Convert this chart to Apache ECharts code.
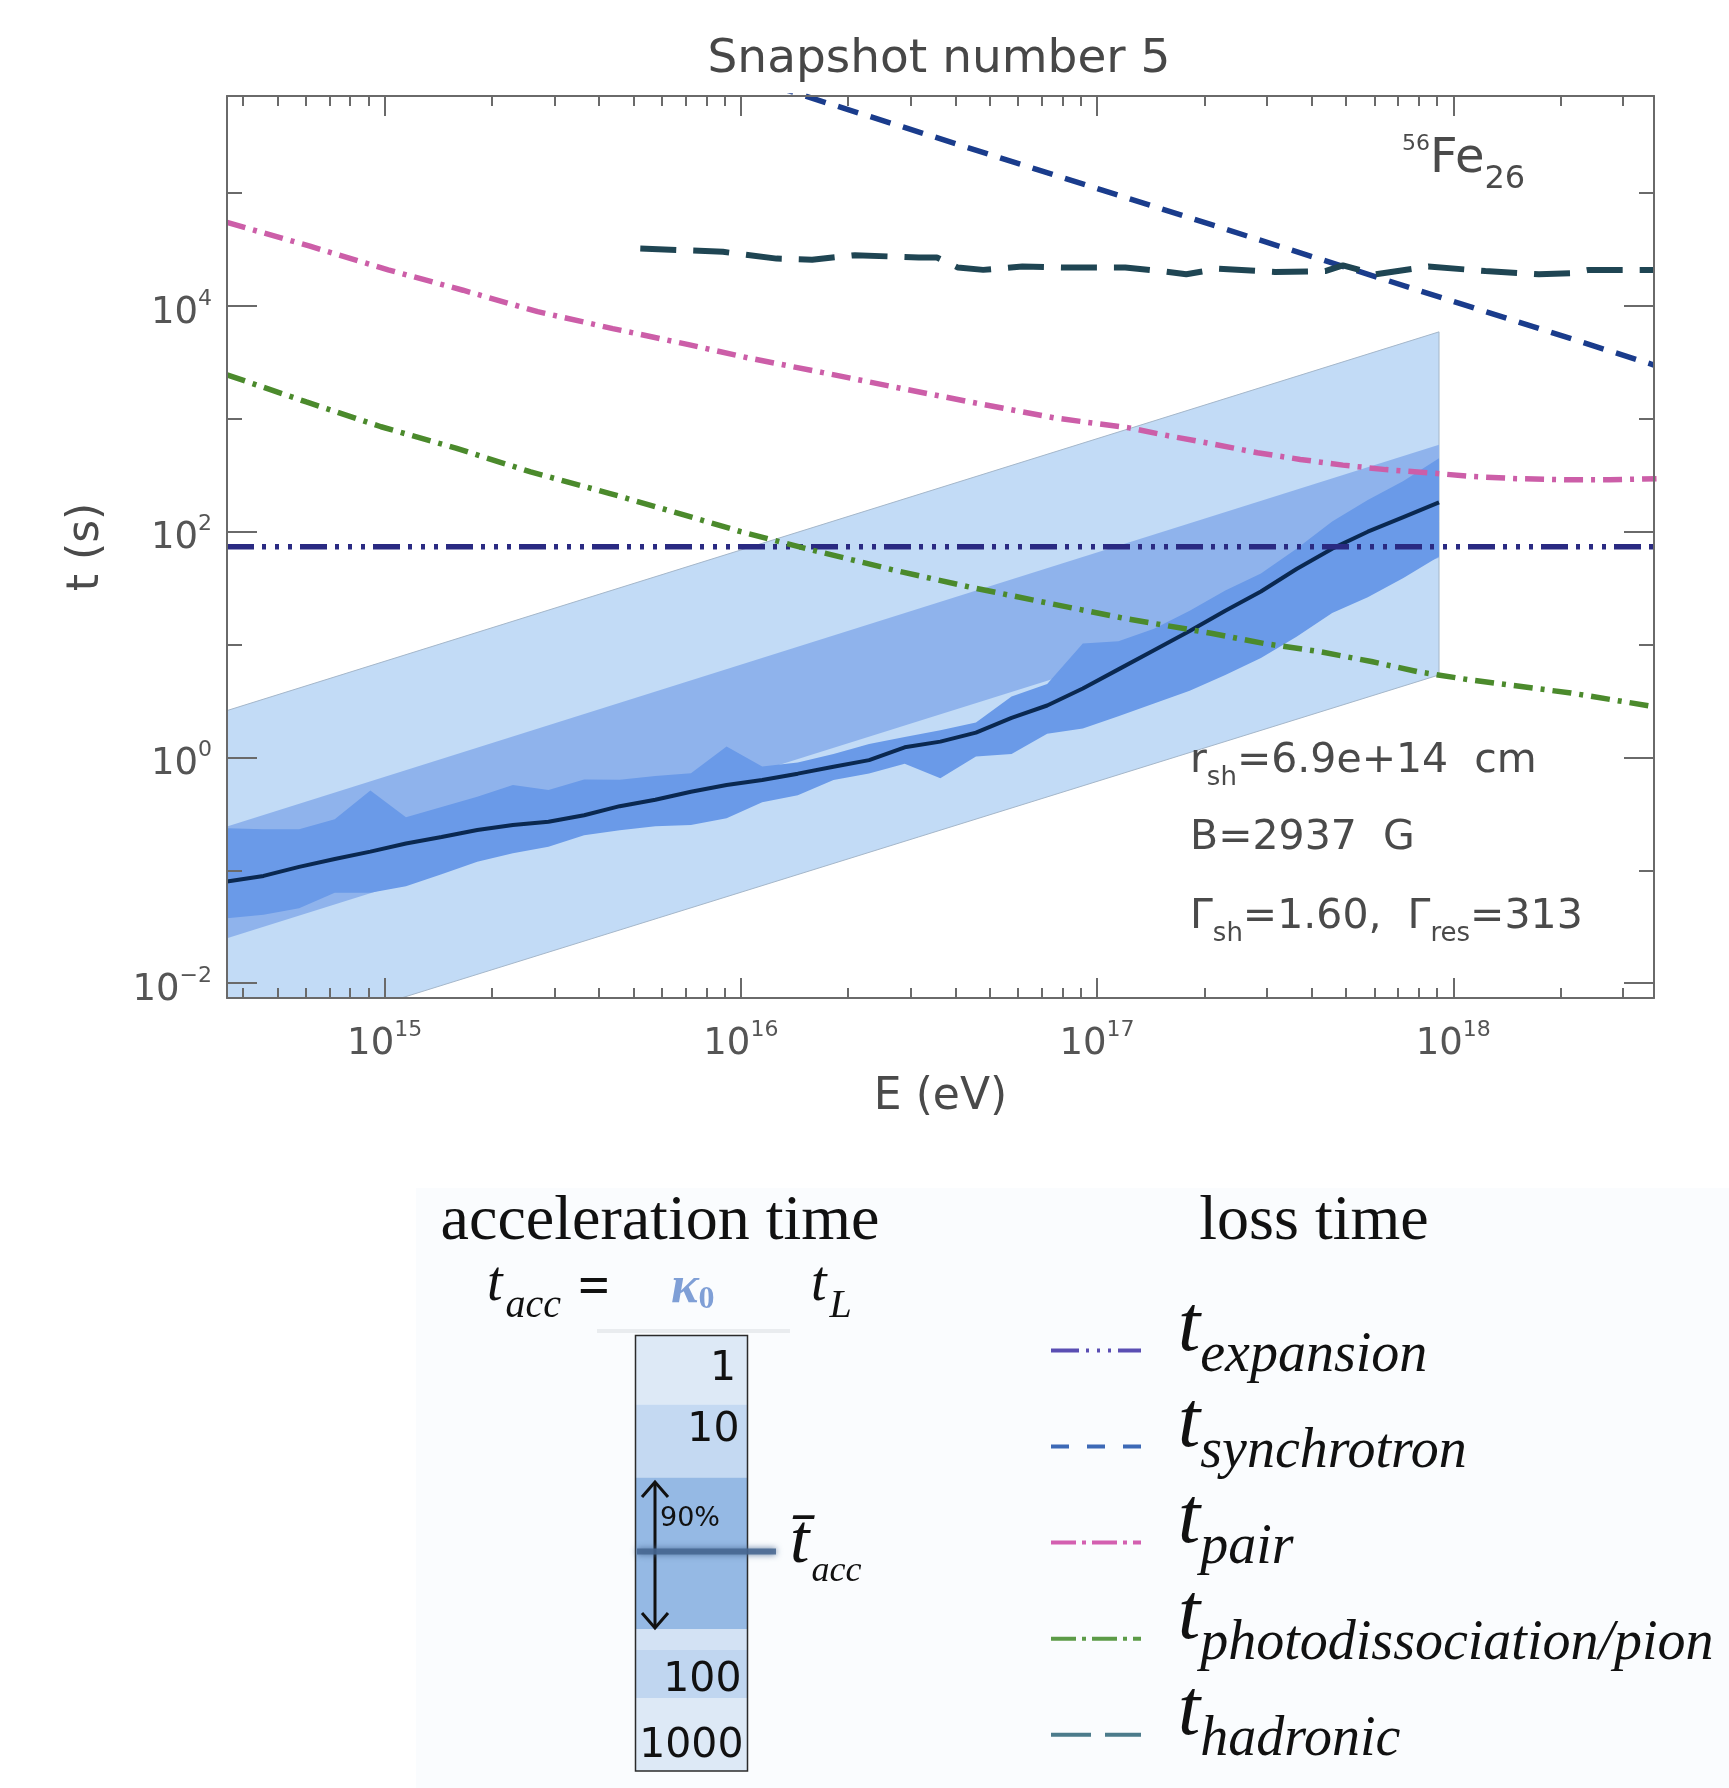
<!DOCTYPE html>
<html>
<head>
<meta charset="utf-8">
<script src="https://cdn.jsdelivr.net/npm/echarts@6.0.0/dist/echarts.min.js"></script>
<style>
html,body{margin:0;padding:0;background:#ffffff;}
#chart{width:1729px;height:1788px;}
</style>
</head>
<body>
<div id="chart"></div>
<script>
// ---------------- axes ----------------
const xMin = 3.61e14, xMax = 3.66e18;
const yMin = 7.38e-3, yMax = 7.26e5;
const xMajorTicks = [1e15, 1e16, 1e17, 1e18];
const xMinorTicks = [4e14, 5e14, 6e14, 7e14, 8e14, 9e14,
  2e15, 3e15, 4e15, 5e15, 6e15, 7e15, 8e15, 9e15,
  2e16, 3e16, 4e16, 5e16, 6e16, 7e16, 8e16, 9e16,
  2e17, 3e17, 4e17, 5e17, 6e17, 7e17, 8e17, 9e17,
  2e18, 3e18];
const yMajorTicks = [1e-2, 1e0, 1e2, 1e4];
const yMinorTicks = [1e-1, 1e1, 1e3, 1e5];

// ---------------- acceleration time ----------------
const accE = [3.61e14, 4.571e14, 5.754e14, 7.244e14, 9.120e14, 1.148e15, 1.445e15, 1.820e15, 2.291e15, 2.884e15,
  3.631e15, 4.571e15, 5.754e15, 7.244e15, 9.120e15, 1.148e16, 1.445e16, 1.820e16, 2.291e16, 2.884e16,
  3.631e16, 4.571e16, 5.754e16, 7.244e16, 9.120e16, 1.148e17, 1.445e17, 1.820e17, 2.291e17, 2.884e17,
  3.631e17, 4.571e17, 5.754e17, 7.244e17, 9.120e17];
const accMedian = [0.0794, 0.0891, 0.1072, 0.1259, 0.1462, 0.1726, 0.1968, 0.2275, 0.2523, 0.2692,
  0.3076, 0.3698, 0.4217, 0.4955, 0.5702, 0.6310, 0.7178, 0.8279, 0.9462, 1.230,
  1.380, 1.660, 2.239, 2.884, 4.074, 6.026, 8.913, 13.18, 19.95, 29.51,
  46.77, 70.79, 100.0, 134.9, 182.0];
const acc90Upper = [0.2355, 0.2307, 0.2307, 0.2831, 0.5082, 0.2951, 0.3631, 0.4487, 0.5702, 0.5152,
  0.6383, 0.6324, 0.6839, 0.7244, 1.247, 0.8318, 0.9016, 1.072, 1.318, 1.514,
  1.738, 2.042, 3.467, 4.467, 10.23, 10.72, 13.80, 19.95, 30.20, 42.66,
  70.79, 123.0, 190.5, 281.8, 446.7];
const acc90Lower = [0.0375, 0.04036, 0.04603, 0.06324, 0.06324, 0.07228, 0.09226, 0.1191, 0.1416, 0.1614,
  0.2042, 0.2265, 0.2455, 0.2523, 0.2884, 0.4009, 0.4613, 0.6310, 0.7211, 0.8770,
  0.6546, 1.019, 1.072, 1.622, 1.807, 2.317, 2.999, 3.890, 5.370, 7.586,
  11.75, 19.05, 26.30, 38.90, 60.26];
const kappaE = [3.61e14, 9.12e17];
const kappa1000 = [2.60, 5900];
const kappa100 = [0.244, 589];
const kappa10 = [0.0250, 58.7];
const kappa1 = [0.00244, 5.38];

// ---------------- loss times ----------------
const expansionE = [3.61e14, 3.66e18];
const expansionT = [73.5, 73.5];
const synchrotronE = [1e16, 1e17, 1e18, 3.66e18];
const synchrotronT = [1.1e6, 1.1e5, 1.1e4, 3.0e3];
const pairE = [3.61e14, 6.17e14, 1.023e15, 1.66e15, 2.69e15, 4.37e15, 7.08e15, 1.047e16, 1.70e16, 2.82e16,
  4.57e16, 7.59e16, 1.23e17, 1.585e17, 2.09e17, 2.82e17, 3.72e17, 4.90e17, 6.46e17, 8.71e17,
  1.12e18, 1.51e18, 2.14e18, 2.75e18, 3.72e18];
const pairT = [5.50e4, 3.39e4, 2.09e4, 1.38e4, 8.91e3, 6.31e3, 4.57e3, 3.47e3, 2.57e3, 1.86e3,
  1.38e3, 1.02e3, 832, 708, 603, 501, 437, 389, 355, 331,
  309, 295, 288, 288, 295];
const photoE = [3.61e14, 6.03e14, 9.77e14, 1.585e15, 2.57e15, 4.27e15, 6.92e15, 1e16, 1.62e16, 2.69e16,
  4.37e16, 7.24e16, 1.20e17, 2.09e17, 2.95e17, 4.17e17, 5.89e17, 7.94e17, 1.096e18, 2.14e18, 3.66e18];
const photoT = [2455, 1413, 851, 550, 339, 219, 141, 100, 67.6, 45.7,
  32.4, 23.4, 17.0, 12.6, 10.2, 8.71, 7.08, 5.75, 4.90, 3.72, 2.82];
const hadronicE = [5.22e15, 8.91e15, 1.26e16, 1.585e16, 2.09e16, 3.16e16, 3.55e16, 4.07e16, 4.79e16, 6.17e16,
  8.32e16, 1.2e17, 1.51e17, 1.78e17, 2.19e17, 3.16e17, 4.37e17, 4.9e17, 6.03e17, 8.51e17,
  1.23e18, 1.74e18, 2.14e18, 2.4e18, 3.66e18];
const hadronicT = [3.24e4, 3.02e4, 2.63e4, 2.57e4, 2.82e4, 2.69e4, 2.69e4, 2.19e4, 2.09e4, 2.24e4,
  2.19e4, 2.19e4, 2.04e4, 1.91e4, 2.14e4, 2.0e4, 2.04e4, 2.29e4, 1.91e4, 2.24e4,
  2.04e4, 1.91e4, 1.95e4, 2.09e4, 2.09e4];

// ---------------- legend / colour bar texts ----------------
const lossNames = ['expansion', 'synchrotron', 'pair', 'photodissociation/pion', 'hadronic'];
const kappaLabels = ['1', '10', '100', '1000'];

// ---------------- helpers ----------------
const zip = (xs, ys) => xs.map((x, i) => [x, ys[i]]);
const frameColor = '#6a6a6a';
const plotFont = 'DejaVu Sans';
const serif = 'Liberation Serif';

function band(name, xs, upper, lower, color, z, stroke) {
  const pts = [];
  xs.forEach((x, i) => pts.push([x, upper[i]]));
  for (let i = xs.length - 1; i >= 0; i--) pts.push([xs[i], lower[i]]);
  return {
    type: 'custom', name, coordinateSystem: 'cartesian2d', xAxisIndex: 0, yAxisIndex: 0,
    clip: true, silent: true, z, data: pts, encode: { x: 0, y: 1 },
    renderItem(params, api) {
      if (params.dataIndex !== 0) return null;
      const poly = pts.map(p => api.coord(p));
      return { type: 'polygon', shape: { points: poly },
        style: { fill: color, stroke: stroke || null, lineWidth: stroke ? 1 : 0 } };
    }
  };
}
function lossLine(name, xs, ys, color, dash, width) {
  return { type: 'line', name, data: zip(xs, ys), symbol: 'none', z: 6, clip: true,
    lineStyle: { color, width: width || 5.5, type: dash }, emphasis: { disabled: true } };
}
const powLabel = v => {
  const n = Math.round(Math.log10(v));
  return '{b|10}{s|' + (n < 0 ? '\u2212' + (-n) : n) + '}';
};
const labelRich = {
  b: { fontFamily: plotFont, fontSize: 37, lineHeight: 37, color: '#555', padding: [14, 0, 0, 0], verticalAlign: 'middle' },
  s: { fontFamily: plotFont, fontSize: 22, lineHeight: 22, color: '#555', padding: [0, 0, 14, 0], verticalAlign: 'middle' }
};
function axis(dim, pos, ticks, len, withLine, withLabels, extra) {
  const a = {
    type: 'log', position: pos, min: dim === 'x' ? xMin : yMin, max: dim === 'x' ? xMax : yMax, z: 10,
    axisLine: { show: withLine, onZero: false, lineStyle: { color: frameColor, width: 2 } },
    axisTick: { show: true, inside: true, length: len, customValues: ticks, lineStyle: { color: frameColor, width: 2 } },
    axisLabel: withLabels ? { show: true, customValues: ticks, formatter: powLabel, rich: labelRich,
      margin: dim === 'x' ? 21 : 15, color: '#555' } : { show: false },
    splitLine: { show: false }, minorTick: { show: false }, minorSplitLine: { show: false }
  };
  return Object.assign(a, extra || {});
}
// rich text whose parts are shifted vertically by dy (px) from the common middle line
function richText(x, y, parts, common, align) {
  const rich = {}; let s = '';
  parts.forEach((p, i) => {
    const k = 'r' + i; const dy = p.dy || 0;
    rich[k] = Object.assign({}, common, { fontSize: p.fs, lineHeight: p.fs, verticalAlign: 'middle',
      padding: [dy > 0 ? 2 * dy : 0, p.pr || 0, dy < 0 ? -2 * dy : 0, p.pl || 0] }, p.style || {});
    s += '{' + k + '|' + p.t + '}';
  });
  return { type: 'text', x, y, z: 50, style: { text: s, rich, align: align || 'left', verticalAlign: 'middle' } };
}
function plainText(x, y, t, fs, common, align) {
  return { type: 'text', x, y, z: 50, style: Object.assign({ text: t, fontSize: fs, align: align || 'left', verticalAlign: 'middle' }, common) };
}

const plotTxt = { fill: '#4a4a4a', fontFamily: plotFont };
const serifTxt = { fill: '#111', fontFamily: serif, fontStyle: 'italic' };

// colour bar geometry (layout only)
const barX = 635.5, barW = 112;
const barBands = [[1335.5, 1404.5, '#dde9f6'], [1404.5, 1477.5, '#c4d9f2'], [1477.5, 1629, '#95b9e4'],
  [1629, 1650, '#d3e2f4'], [1650, 1698, '#c0d6f0'], [1698, 1771, '#dde9f6']];
const kappaLabelPos = [[736, 1369], [739.5, 1430], [741.5, 1680], [743.5, 1746]];

const graphics = [];
graphics.push({ type: 'rect', z: 1, shape: { x: 416, y: 1188, width: 1313, height: 600 }, style: { fill: '#fafcfe' } });
// plot annotations
graphics.push(richText(1402, 160, [{ t: '56', fs: 22, dy: -16 }, { t: 'Fe', fs: 48 }, { t: '26', fs: 32, dy: 19.5 }], plotTxt));
graphics.push(richText(1190, 761, [{ t: 'r', fs: 41 }, { t: 'sh', fs: 26, dy: 17 }, { t: '=6.9e+14  cm', fs: 41 }], plotTxt));
graphics.push(richText(1190, 838.5, [{ t: 'B=2937  G', fs: 41 }], plotTxt));
graphics.push(richText(1190, 917, [{ t: '\u0393', fs: 41 }, { t: 'sh', fs: 26, dy: 17 }, { t: '=1.60,  \u0393', fs: 41 },
  { t: 'res', fs: 26, dy: 17 }, { t: '=313', fs: 41 }], plotTxt));
// headers
graphics.push(plainText(660, 1222, 'acceleration time', 64, { fill: '#111', fontFamily: serif }, 'center'));
graphics.push(plainText(1314, 1222, 'loss time', 64, { fill: '#111', fontFamily: serif }, 'center'));
// formula t_acc = kappa0 t_L
graphics.push({ type: 'rect', z: 2, shape: { x: 597, y: 1329, width: 193, height: 4 }, style: { fill: '#e9ecef' } });
graphics.push(richText(487, 1296, [{ t: 't', fs: 56, dy: -10.4 }, { t: 'acc', fs: 40, dy: 10.4, pl: 3 }], serifTxt));
graphics.push(plainText(594, 1290, '=', 56, { fill: '#111', fontFamily: serif, fontWeight: 'bold' }, 'center'));
graphics.push(richText(671, 1294.5, [{ t: '\u03ba', fs: 52, dy: -5.5 }, { t: '0', fs: 32, dy: 5.5, style: { fontStyle: 'normal' } }],
  { fill: '#7f9fd6', fontFamily: serif, fontStyle: 'italic', fontWeight: 'bold' }));
graphics.push(richText(811, 1296, [{ t: 't', fs: 56, dy: -10.4 }, { t: 'L', fs: 40, dy: 10.4, pl: 3 }], serifTxt));
// colour bar
barBands.forEach(b => graphics.push({ type: 'rect', z: 3, shape: { x: barX, y: b[0], width: barW, height: b[1] - b[0] }, style: { fill: b[2] } }));
graphics.push({ type: 'rect', z: 8, shape: { x: barX, y: 1335.5, width: barW, height: 435.5 }, style: { fill: null, stroke: '#2b2b2b', lineWidth: 1.5 } });
kappaLabels.forEach((t, i) => graphics.push(plainText(kappaLabelPos[i][0], kappaLabelPos[i][1], t, 41, { fill: '#111', fontFamily: plotFont }, 'right')));
graphics.push(plainText(660, 1519, '90%', 27, { fill: '#111', fontFamily: plotFont }));
graphics.push({ type: 'line', z: 9, shape: { x1: 655, y1: 1483, x2: 655, y2: 1627 }, style: { stroke: '#111', lineWidth: 3 } });
graphics.push({ type: 'polyline', z: 9, shape: { points: [[642, 1497], [655, 1482], [668, 1497]] }, style: { stroke: '#111', lineWidth: 3, fill: null } });
graphics.push({ type: 'polyline', z: 9, shape: { points: [[642, 1613], [655, 1628], [668, 1613]] }, style: { stroke: '#111', lineWidth: 3, fill: null } });
graphics.push({ type: 'line', z: 9, shape: { x1: 637, y1: 1551.5, x2: 776, y2: 1551.5 },
  style: { stroke: '#45658f', lineWidth: 6, opacity: 0.85, shadowBlur: 6, shadowColor: '#45658f' } });
graphics.push(richText(790, 1558, [{ t: 't\u0304', fs: 70, dy: -14 }, { t: 'acc', fs: 36, dy: 14, pl: 2 }], serifTxt));

const legendStyles = [
  { color: '#5a4eb3', type: [28, 7, 3, 8, 3, 8, 3, 7] },
  { color: '#3d69b6', type: [18, 18] },
  { color: '#d35fb0', type: [25, 6, 4, 6] },
  { color: '#5c9b47', type: [25, 6, 4, 6] },
  { color: '#4b7b8b', type: [40, 14] }
];

const option = {
  animation: false,
  backgroundColor: '#ffffff',
  title: {
    text: 'Snapshot number 5', left: 939, top: 35, padding: 0, textAlign: 'center',
    textStyle: { fontFamily: plotFont, fontSize: 47, fontWeight: 'normal', color: '#474747', lineHeight: 50 }
  },
  grid: { left: 227, right: 75, top: 96, bottom: 790, containLabel: false },
  xAxis: [
    axis('x', 'bottom', xMajorTicks, 20, true, true, {
      name: 'E (eV)', nameLocation: 'middle', nameGap: 78,
      nameTextStyle: { fontFamily: plotFont, fontSize: 44, lineHeight: 44, color: '#4a4a4a' } }),
    axis('x', 'bottom', xMinorTicks, 10, false, false),
    axis('x', 'top', xMajorTicks, 20, true, false),
    axis('x', 'top', xMinorTicks, 10, false, false)
  ],
  yAxis: [
    axis('y', 'left', yMajorTicks, 30, true, true, {
      name: 't (s)', nameLocation: 'middle', nameGap: 118,
      nameTextStyle: { fontFamily: plotFont, fontSize: 44, lineHeight: 44, color: '#4a4a4a' } }),
    axis('y', 'left', yMinorTicks, 15, false, false),
    axis('y', 'right', yMajorTicks, 30, true, false),
    axis('y', 'right', yMinorTicks, 15, false, false)
  ],
  legend: {
    orient: 'vertical', left: 1049, top: 1288.5, height: 600, width: 680, padding: 0,
    itemWidth: 90, itemHeight: 14, itemGap: -27.7, selectedMode: false,
    itemStyle: { opacity: 0 },
    formatter: n => '{t|t}{s|' + n + '}',
    textStyle: { rich: {
      t: { fontFamily: serif, fontStyle: 'italic', fontSize: 80, lineHeight: 80, color: '#111', padding: [0, 0, 43.8, 32], verticalAlign: 'middle' },
      s: { fontFamily: serif, fontStyle: 'italic', fontSize: 56, lineHeight: 56, color: '#111', padding: [11.5, 0, 0, 0], verticalAlign: 'middle' }
    } },
    data: lossNames.map((n, i) => ({ name: n, itemStyle: { opacity: 0 },
      lineStyle: { color: legendStyles[i].color, width: 4, type: legendStyles[i].type, opacity: 1 } }))
  },
  series: [
    band('\u03ba0 = 1\u20131000', kappaE, kappa1000, kappa1, '#c2dbf6', 1, '#a5b7ca'),
    band('\u03ba0 = 10\u2013100', kappaE, kappa100, kappa10, '#8fb3ec', 2),
    band('90%', accE, acc90Upper, acc90Lower, '#6a9ae8', 3),
    { type: 'line', name: 't\u0304acc', data: zip(accE, accMedian), symbol: 'none', z: 4,
      lineStyle: { color: '#0a2850', width: 4 }, emphasis: { disabled: true } },
    lossLine('expansion', expansionE, expansionT, '#2a2a82', [27, 8, 4, 9, 4, 9, 4, 8]),
    lossLine('synchrotron', synchrotronE, synchrotronT, '#1a3c8c', [21, 13]),
    lossLine('pair', pairE, pairT, '#cc5ea8', [19, 8, 4, 8]),
    lossLine('photodissociation/pion', photoE, photoT, '#4b8a2c', [19, 8, 4, 8]),
    lossLine('hadronic', hadronicE, hadronicT, '#1f4553', [36, 17], 6)
  ],
  graphic: { elements: graphics }
};

const chart = echarts.init(document.getElementById('chart'), null, { renderer: 'canvas' });
chart.setOption(option);
</script>
</body>
</html>
